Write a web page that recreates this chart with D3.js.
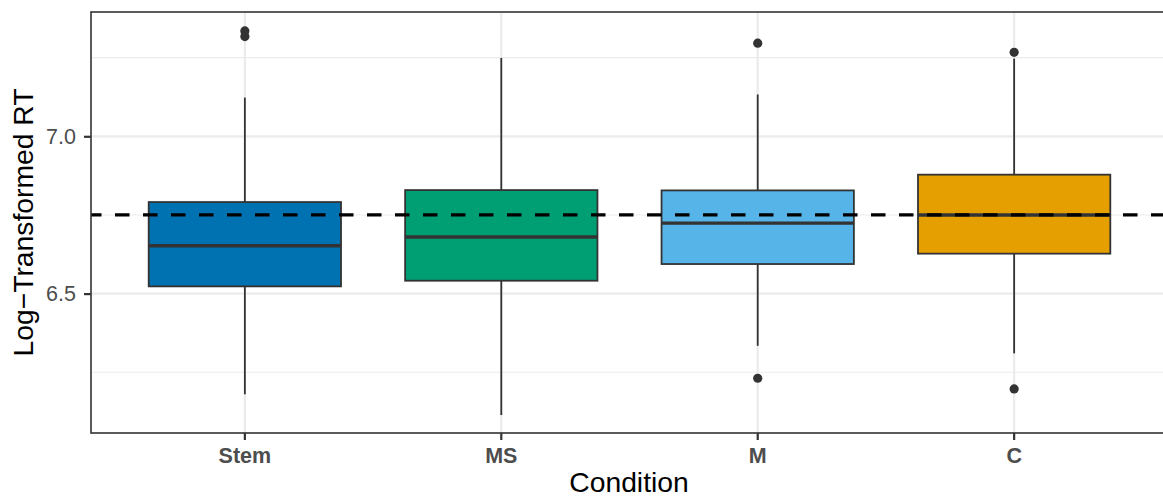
<!DOCTYPE html>
<html>
<head>
<meta charset="utf-8">
<script src="https://cdn.jsdelivr.net/npm/d3@7"></script>
<style>
  body { margin: 0; background: #fff; }
  svg { display: block; font-family: "Liberation Sans", Arial, sans-serif; }
</style>
</head>
<body>
<div id="chart"></div>
<script>
// box summaries
const categories = ["Stem", "MS", "M", "C"];
const q1 = [6.523, 6.541, 6.594, 6.627];
const median = [6.652, 6.680, 6.724, 6.750];
const q3 = [6.791, 6.829, 6.828, 6.878];
const whiskerLow = [6.180, 6.114, 6.334, 6.310];
const whiskerHigh = [7.123, 7.249, 7.133, 7.247];
const outliers = [[7.335, 7.317], [], [7.296, 6.231], [7.267, 6.197]];
const fills = ["#0072B2", "#009E73", "#56B4E9", "#E69F00"];
const refLine = 6.75;
const yTicks = [6.5, 7.0];
const yMinor = [6.25, 6.75, 7.25];

const width = 1163;
const height = 497;
const margin = { top: 12, right: -5, bottom: 64, left: 91 };
const panelW = width - margin.left - margin.right;
const panelH = height - margin.top - margin.bottom;

const svg = d3.select("#chart")
  .append("svg")
  .attr("width", width)
  .attr("height", height);

const chart = svg.append("g")
  .attr("transform", `translate(${margin.left}, ${margin.top})`);

const x = d3.scaleBand()
  .domain(categories)
  .range([0, panelW])
  .paddingInner(0)
  .paddingOuter(0.1);

const y = d3.scaleLinear()
  .domain([6.057, 7.395])
  .range([panelH, 0]);

const cx = d => x(d) + x.bandwidth() / 2;
const boxW = x.bandwidth() * 0.75;

// grid
chart.selectAll(".minor")
  .data(yMinor)
  .join("line")
  .attr("x1", 0).attr("x2", panelW)
  .attr("y1", d => y(d)).attr("y2", d => y(d))
  .attr("stroke", "#EBEBEB").attr("stroke-width", 1.1);

chart.selectAll(".major")
  .data(yTicks)
  .join("line")
  .attr("x1", 0).attr("x2", panelW)
  .attr("y1", d => y(d)).attr("y2", d => y(d))
  .attr("stroke", "#EBEBEB").attr("stroke-width", 2.2);

chart.selectAll(".vgrid")
  .data(categories)
  .join("line")
  .attr("x1", d => cx(d)).attr("x2", d => cx(d))
  .attr("y1", 0).attr("y2", panelH)
  .attr("stroke", "#EBEBEB").attr("stroke-width", 2.2);

// boxes
const boxes = chart.selectAll(".box")
  .data(categories)
  .join("g")
  .attr("class", "box");

boxes.append("line")
  .attr("x1", d => cx(d)).attr("x2", d => cx(d))
  .attr("y1", (d, i) => y(q3[i])).attr("y2", (d, i) => y(whiskerHigh[i]))
  .attr("stroke", "#333333").attr("stroke-width", 1.8);

boxes.append("line")
  .attr("x1", d => cx(d)).attr("x2", d => cx(d))
  .attr("y1", (d, i) => y(q1[i])).attr("y2", (d, i) => y(whiskerLow[i]))
  .attr("stroke", "#333333").attr("stroke-width", 1.8);

boxes.append("rect")
  .attr("x", d => cx(d) - boxW / 2)
  .attr("width", boxW)
  .attr("y", (d, i) => y(q3[i]))
  .attr("height", (d, i) => y(q1[i]) - y(q3[i]))
  .attr("fill", (d, i) => fills[i])
  .attr("stroke", "#333333").attr("stroke-width", 1.8);

boxes.append("line")
  .attr("x1", d => cx(d) - boxW / 2).attr("x2", d => cx(d) + boxW / 2)
  .attr("y1", (d, i) => y(median[i])).attr("y2", (d, i) => y(median[i]))
  .attr("stroke", "#333333").attr("stroke-width", 3.4);

boxes.each(function (d, i) {
  d3.select(this).selectAll("circle")
    .data(outliers[i])
    .join("circle")
    .attr("cx", cx(d))
    .attr("cy", v => y(v))
    .attr("r", 4.6)
    .attr("fill", "#333333");
});

// reference line
chart.append("line")
  .attr("x1", 0).attr("x2", panelW)
  .attr("y1", y(refLine)).attr("y2", y(refLine))
  .attr("stroke", "#000").attr("stroke-width", 3.2)
  .attr("stroke-dasharray", "14.5 13.5")
  .attr("stroke-dashoffset", 4);

// panel border
chart.append("rect")
  .attr("width", panelW).attr("height", panelH)
  .attr("fill", "none")
  .attr("stroke", "#333333").attr("stroke-width", 1.6);

// axes
const yAxis = chart.append("g")
  .call(d3.axisLeft(y).tickValues(yTicks).tickFormat(d3.format(".1f")).tickSize(7).tickPadding(8));
yAxis.select(".domain").remove();
yAxis.selectAll(".tick line").attr("stroke", "#333333").attr("stroke-width", 2.2);
yAxis.selectAll(".tick text")
  .attr("fill", "#4D4D4D")
  .attr("font-size", 21.5)
  .attr("font-family", "Liberation Sans, Arial, sans-serif");

const xAxis = chart.append("g")
  .attr("transform", `translate(0, ${panelH})`)
  .call(d3.axisBottom(x).tickSize(7).tickPadding(8));
xAxis.select(".domain").remove();
xAxis.selectAll(".tick line").attr("stroke", "#333333").attr("stroke-width", 2.2);
xAxis.selectAll(".tick text")
  .attr("fill", "#4D4D4D")
  .attr("font-size", 21.5)
  .attr("font-weight", "bold")
  .attr("font-family", "Liberation Sans, Arial, sans-serif");

// titles
svg.append("text")
  .attr("x", 629)
  .attr("y", 492)
  .attr("text-anchor", "middle")
  .attr("font-size", 28.3)
  .attr("fill", "#000")
  .text("Condition");

svg.append("text")
  .attr("transform", `translate(33, ${margin.top + panelH / 2}) rotate(-90)`)
  .attr("text-anchor", "middle")
  .attr("font-size", 28.3)
  .attr("fill", "#000")
  .text("Log\u2212Transformed RT");
</script>
</body>
</html>
